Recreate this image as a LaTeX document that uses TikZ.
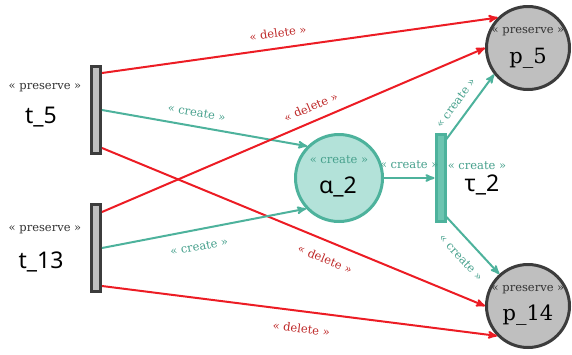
\documentclass[tikz,border=0pt]{standalone}
\usepackage{fontspec}
\setmainfont{DejaVu Serif}
\newfontfamily\namesans{Noto Sans}
\usetikzlibrary{arrows,positioning,calc}
\definecolor{delred}{RGB}{236,28,36}
\definecolor{deltext}{RGB}{190,40,40}
\definecolor{newteal}{RGB}{77,178,156}
\definecolor{newtext}{RGB}{70,160,140}
\definecolor{newfill}{RGB}{179,226,217}
\definecolor{barteal}{RGB}{108,196,176}
\definecolor{placegray}{RGB}{191,191,191}
\definecolor{placeedge}{RGB}{60,60,60}
\tikzset{
	place/.style = {
		draw=placeedge,
		fill=placegray,
		circle,
		line width=3pt,
		minimum size=83pt,
		inner sep=0pt
	},
	newplace/.style = {
		place,
		draw=newteal,
		fill=newfill,
		minimum size=87pt
	},
	trans/.style = {
		draw=placeedge,
		fill=placegray,
		rectangle,
		line width=3pt,
		minimum width=9pt,
		minimum height=87pt,
		inner sep=0pt
	},
	newtrans/.style = {
		trans,
		draw=newteal,
		fill=barteal
	},
	delarc/.style = {
		->,
		>=stealth',
		draw=delred,
		line width=2pt
	},
	newarc/.style = {
		delarc,
		draw=newteal
	},
	arclabel/.style = {
		font=\fontsize{11.5}{12}\selectfont,
		inner sep=1pt,
		sloped
	},
	dellabel/.style = {arclabel, text=deltext},
	newlabel/.style = {arclabel, text=newtext},
	stereo/.style = {
		font=\fontsize{11.5}{12}\selectfont,
		text=black!80,
		inner sep=0pt
	},
	bigname/.style = {
		font=\namesans\fontsize{23}{26}\selectfont,
		inner sep=0pt
	},
	pname/.style = {
		font=\fontsize{21}{24}\selectfont,
		inner sep=0pt
	}
}
\begin{document}
\begin{tikzpicture}[x=1pt, y=-1pt]
		\useasboundingbox (0,0) rectangle (572,354);
		
		% --- Transiciones y lugares ---
		\node [trans] (t5) at (96,110) {};
		\node [trans] (t13) at (96,248) {};
		\node [newplace] (a2) at (339,178) {};
		\node [newtrans] (tau2) at (440.5,178) {};
		\node [place] (p5) at (528,48) {};
		\node [place] (p14) at (528,306) {};
		
		% --- Textos ---
		\node [stereo] (t5st) at (45,88) {« preserve »};
		\node [bigname] (t5name) at (41,117) {t\_5};
		\node [stereo] (t13st) at (45,230) {« preserve »};
		\node [bigname] (t13name) at (41,262) {t\_13};
		\node [stereo, text=newtext] (a2st) at (339,160) {« create »};
		\node [bigname] (a2name) at (338,187) {α\_2};
		\node [stereo, text=newtext] (tau2st) at (477,166) {« create »};
		\node [bigname] (tau2name) at (482,185) {τ\_2};
		\node [stereo] (p5st) at (528,32) {« preserve »};
		\node [pname] (p5name) at (528,58) {p\_5};
		\node [stereo] (p14st) at (528,290) {« preserve »};
		\node [pname] (p14name) at (528,315) {p\_14};
		
		% --- Arcos ---
		\draw [delarc] ([yshift=37pt]t5.east) -- node[dellabel, pos=0.45, above=9pt] {« delete »} (p5.135);
		\draw [newarc] (t5.east) -- node[newlabel, pos=0.45, above=8pt] {« create »} (a2.135);
		\draw [delarc] ([yshift=-38pt]t5.east) -- node[dellabel, pos=0.6, below=11pt] {« delete »} (p14.180);
		\draw [delarc] ([yshift=36pt]t13.east) -- node[dellabel, pos=0.56, above=8pt] {« delete »} (p5.180);
		\draw [newarc] (t13.east) -- node[newlabel, pos=0.46, below=11pt] {« create »} (a2.223);
		\draw [delarc] ([yshift=-38pt]t13.east) -- node[dellabel, pos=0.51, below=11pt] {« delete »} (p14.224);
		\draw [newarc] (a2.east) -- node[newlabel, midway, above=7pt] {« create »} (tau2.west);
		\draw [newarc] ([yshift=39pt]tau2.east) -- node[newlabel, pos=0.43, above=8pt] {« create »} (p5.218);
		\draw [newarc] ([yshift=-39pt]tau2.east) -- node[newlabel, pos=0.51, below=11pt] {« create »} (p14.132);
		
	\end{tikzpicture}
\end{document}
